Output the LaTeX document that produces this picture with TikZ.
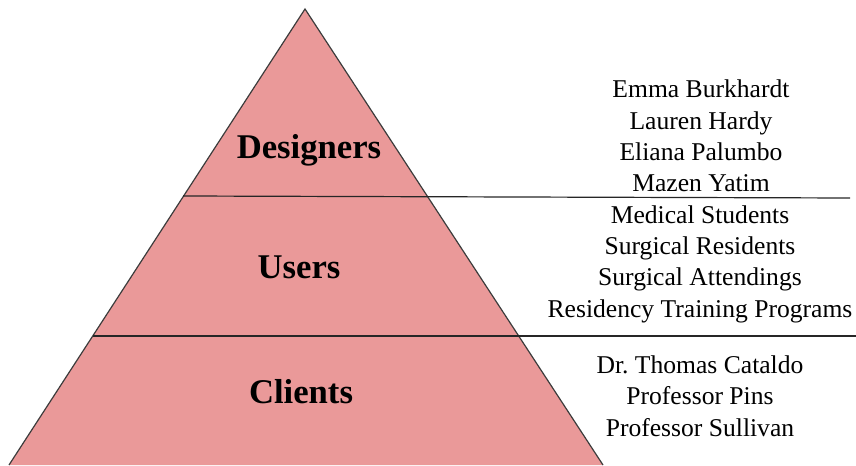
\documentclass[tikz,border=0pt]{standalone}
\usepackage{fontspec}
\setmainfont{Liberation Serif}
\definecolor{tierred}{HTML}{EA9999}
\definecolor{edgegray}{HTML}{3C3C3C}

\tikzset{
  tier/.style={font=\fontsize{26}{30}\selectfont\bfseries},
  members/.style={align=center, font=\fontsize{19.2}{23.5}\selectfont},
  divider/.style={draw=black!85, line width=0.9pt}
}

\begin{document}
\begin{tikzpicture}[x=0.75pt,y=-0.75pt]
  \useasboundingbox (0,0) rectangle (856,466);
  % pyramid corners
  \coordinate (top) at (305,9);
  \coordinate (bl) at (9,465);
  \coordinate (br) at (603,465);
  \fill[tierred] (bl) -- (top) -- (br) -- cycle;
  \draw[edgegray, line width=0.9pt, line join=miter] (bl) -- (top) -- (br);

  % dividers between the tiers
  \coordinate (d1l) at (183,196);
  \coordinate (d1r) at (850,198);
  \coordinate (d2l) at (93,336);
  \coordinate (d2r) at (856,336);
  \draw[divider] (d1l) -- (d1r);
  \draw[divider] (d2l) -- (d2r);

  % tier names
  \node[tier] (designers) at (309,150) {Designers};
  \node[tier] (users) at (299,267) {Users};
  \node[tier] (clients) at (301,392) {Clients};

  % who belongs to each tier
  \node[members] (designernames) at (701,136)
    {Emma Burkhardt\\Lauren Hardy\\Eliana Palumbo\\Mazen Yatim};
  \node[members] (usernames) at (700,264)
    {Medical Students\\Surgical Residents\\Surgical Attendings\\Residency Training Programs};
  \node[members] (clientnames) at (700,396)
    {Dr.\ Thomas Cataldo\\Professor Pins\\Professor Sullivan};
\end{tikzpicture}
\end{document}
